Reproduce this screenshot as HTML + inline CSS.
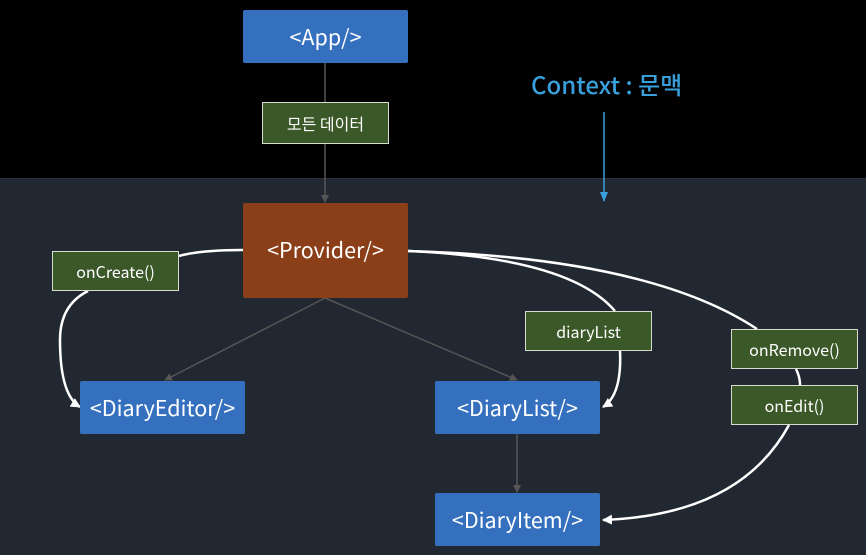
<!DOCTYPE html>
<html><head><meta charset="utf-8"><style>
body{margin:0;width:866px;height:554px;overflow:hidden;background:#000;position:relative;font-family:"Noto Sans CJK KR","Liberation Sans",sans-serif}
.dark{position:absolute;left:0;top:178px;width:866px;height:376px;background:#222832;border-top:1px solid #2c323c}
.b{position:absolute;display:flex;align-items:center;justify-content:center;color:#fff;box-sizing:border-box;line-height:1}
.blue{background:#3570bf;font-size:21.5px;border-radius:2px}
.green{background:#3b5829;border:1px solid #d8dccf;font-size:16px}
svg{position:absolute;left:0;top:0}
</style></head><body>
<div class="dark"></div>
<svg width="866" height="554">
<defs>
<marker id="g" markerWidth="8" markerHeight="8" refX="7" refY="4" orient="auto" markerUnits="userSpaceOnUse"><path d="M0,0L8,4L0,8z" fill="#555"/></marker>
<marker id="w" markerWidth="10" markerHeight="10" refX="9" refY="5" orient="auto" markerUnits="userSpaceOnUse"><path d="M0,0L10,5L0,10z" fill="#fff"/></marker>
<marker id="c" markerWidth="10" markerHeight="10" refX="9" refY="5" orient="auto" markerUnits="userSpaceOnUse"><path d="M0,1L10,5L0,9z" fill="#3aa0dc"/></marker>
</defs>
<g stroke="#555" stroke-width="1.5" fill="none">
<line x1="325" y1="63" x2="325" y2="202" marker-end="url(#g)"/>
<line x1="325" y1="298" x2="165" y2="380" marker-end="url(#g)"/>
<line x1="325" y1="298" x2="517" y2="380" marker-end="url(#g)"/>
<line x1="517" y1="434" x2="517" y2="492" marker-end="url(#g)"/>
</g>
<line x1="604" y1="112" x2="604" y2="201" stroke="#3aa0dc" stroke-width="1.5" marker-end="url(#c)"/>
<g stroke="#fff" stroke-width="2.5" fill="none">
<path d="M243,250 Q200,250 179,256"/>
<path d="M88,291 Q60,305 60,340 Q60,395 80,407" marker-end="url(#w)"/>
<path d="M408,251 Q570,258 615,311"/>
<path d="M620,351 Q622,395 603,407" marker-end="url(#w)"/>
<path d="M408,251 Q650,258 757,329"/>
<path d="M796,369 Q800,377 800,385"/>
<path d="M789,425 Q740,515 603,520" marker-end="url(#w)"/>
</g>
</svg>
<div class="b blue" style="left:243px;top:10px;width:165px;height:53px">&lt;App/&gt;</div>
<div class="b green" style="left:262px;top:102px;width:127px;height:42px">모든 데이터</div>
<div class="b" style="left:243px;top:203px;width:165px;height:95px;background:#8b3f18;font-size:21.5px;align-items:flex-start;padding-top:36px;border-radius:2px">&lt;Provider/&gt;</div>
<div class="b green" style="left:52px;top:251px;width:127px;height:40px">onCreate()</div>
<div class="b blue" style="left:80px;top:381px;width:165px;height:53px">&lt;DiaryEditor/&gt;</div>
<div class="b blue" style="left:435px;top:381px;width:165px;height:53px">&lt;DiaryList/&gt;</div>
<div class="b blue" style="left:435px;top:493px;width:165px;height:53px">&lt;DiaryItem/&gt;</div>
<div class="b green" style="left:525px;top:311px;width:127px;height:40px">diaryList</div>
<div class="b green" style="left:731px;top:329px;width:127px;height:40px">onRemove()</div>
<div class="b green" style="left:731px;top:385px;width:127px;height:40px">onEdit()</div>
<div style="position:absolute;left:531px;top:69px;color:#3aa0dc;font-size:24px;font-weight:500;line-height:30px;white-space:nowrap">Context : 문맥</div>
</body></html>
